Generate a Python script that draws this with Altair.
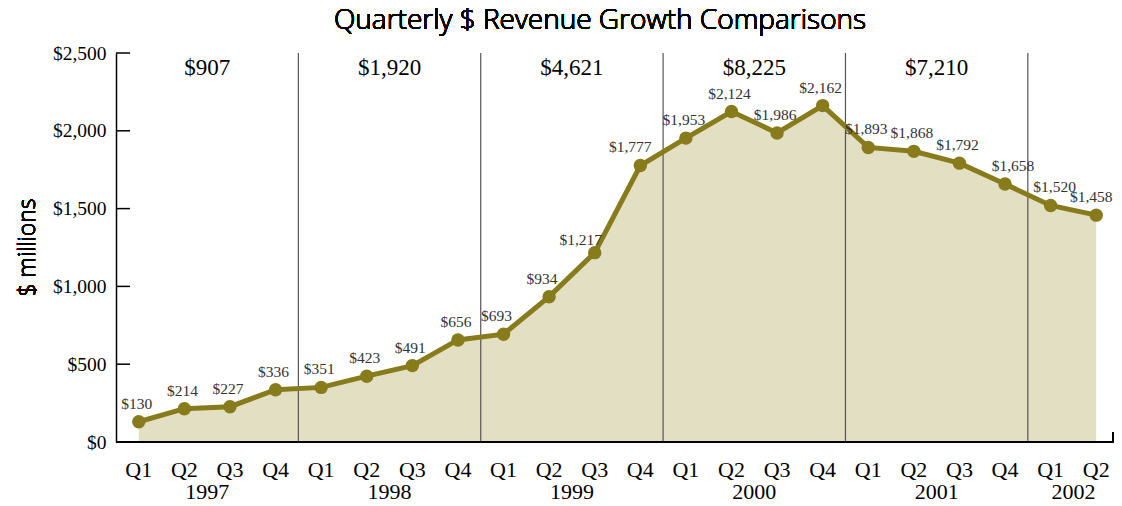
import altair as alt
import pandas as pd

quarters = ["Q1", "Q2", "Q3", "Q4"] * 5 + ["Q1", "Q2"]
years = ["1997"] * 4 + ["1998"] * 4 + ["1999"] * 4 + ["2000"] * 4 + ["2001"] * 4 + ["2002"] * 2
revenue = [130, 214, 227, 336, 351, 423, 491, 656, 693, 934, 1217, 1777,
           1953, 2124, 1986, 2162, 1893, 1868, 1792, 1658, 1520, 1458]
total_years = ["1997", "1998", "1999", "2000", "2001"]
annual_totals = ["$907", "$1,920", "$4,621", "$8,225", "$7,210"]
y_ticks = [0, 500, 1000, 1500, 2000, 2500]

W, H = 998, 389
SERIF = "Liberation Serif"
SANS = "Open Sans"
LINE = "#877b1b"
FILL = "#e3dfc2"

df = pd.DataFrame({"i": list(range(len(revenue))), "q": quarters, "year": years, "revenue": revenue})

# year centers / boundaries from the quarter indices
yc = df.groupby("year", sort=True)["i"].agg(["min", "max"]).reset_index()
yc["center"] = (yc["min"] + yc["max"]) / 2
years_df = yc[["year", "center"]]
seps_df = pd.DataFrame({"sep": [m - 0.5 for m in yc["min"].tolist()[1:]]})
tot_df = pd.DataFrame({"year": total_years, "total": annual_totals}).merge(
    yc.assign(mid=yc["min"] + 1.5)[["year", "mid"]], on="year")
ticks_df = pd.DataFrame({"v": y_ticks})

xs = alt.Scale(domain=[-0.5, len(revenue) - 0.61], nice=False, zero=False)
ys = alt.Scale(domain=[0, 2500], nice=False)

base = alt.Chart(df)

area = base.mark_area(color=FILL, opacity=1).encode(
    x=alt.X("i:Q", scale=xs, axis=None),
    y=alt.Y("revenue:Q", scale=ys, axis=alt.Axis(
        values=y_ticks, format="$,.0f", title=None, grid=False, tickSize=0,
        labelFont=SERIF, labelFontSize=19.5, labelColor="#000", labelPadding=10,
        domainColor="#000", domainWidth=1.5)),
)

seps = alt.Chart(seps_df).mark_rule(color="#555", strokeWidth=1.2).encode(
    x=alt.X("sep:Q", scale=xs), y=alt.value(0), y2=alt.value(H))

yticks = alt.Chart(ticks_df).mark_rule(color="#000", strokeWidth=1.5).encode(
    y=alt.Y("v:Q", scale=ys), x=alt.value(0), x2=alt.value(14))

bottom = base.mark_rule(color="#000", strokeWidth=1.5).encode(
    x=alt.value(0), x2=alt.value(W), y=alt.value(H))
rtick = base.mark_rule(color="#000", strokeWidth=1.5).encode(
    x=alt.value(W - 1), y=alt.value(H - 10), y2=alt.value(H))

line = base.mark_line(color=LINE, strokeWidth=5).encode(
    x=alt.X("i:Q", scale=xs), y=alt.Y("revenue:Q", scale=ys))
pts = base.mark_circle(color=LINE, size=180, opacity=1).encode(
    x=alt.X("i:Q", scale=xs), y=alt.Y("revenue:Q", scale=ys))


def labels(idx, dx, dy):
    return base.transform_filter(alt.FieldOneOfPredicate(field="i", oneOf=idx)).mark_text(
        font=SERIF, fontSize=15.5, color="#333", baseline="middle", dx=dx, dy=dy).encode(
        x=alt.X("i:Q", scale=xs), y=alt.Y("revenue:Q", scale=ys),
        text=alt.Text("revenue:Q", format="$,.0f"))


special = [8, 9, 10, 11, 19, 20, 21]
rest = [k for k in range(len(revenue)) if k not in special]
lab_layers = [
    labels(rest, -2, -18),
    labels([8, 9], -7, -18),
    labels([10], -14, -13),
    labels([11], -10, -18),
    labels([19], 8, -18),
    labels([20], 4, -18),
    labels([21], -5, -18),
]

qlab = base.mark_text(font=SERIF, fontSize=22, color="#000", baseline="middle").encode(
    x=alt.X("i:Q", scale=xs), y=alt.value(H + 28), text="q:N")
ylab = alt.Chart(years_df).mark_text(font=SERIF, fontSize=22, color="#000", baseline="middle").encode(
    x=alt.X("center:Q", scale=xs), y=alt.value(H + 50), text="year:N")
tots = alt.Chart(tot_df).mark_text(font=SERIF, fontSize=23, color="#000", baseline="middle").encode(
    x=alt.X("mid:Q", scale=xs), y=alt.value(15), text="total:N")

title = base.mark_text(font=SANS, fontSize=28, fontWeight=300, color="#000",
                       baseline="middle", align="center").encode(
    x=alt.value(484), y=alt.value(-32), text=alt.value("Quarterly $ Revenue Growth Comparisons"))
ytitle = base.mark_text(font=SANS, fontSize=23, fontWeight=300, color="#000",
                        baseline="middle", align="center", angle=270).encode(
    x=alt.value(-88), y=alt.value(H / 2), text=alt.value("$ millions"))

chart = alt.layer(area, seps, yticks, bottom, rtick, line, pts, *lab_layers,
                  qlab, ylab, tots, title, ytitle).properties(
    width=W, height=H,
    padding={"left": 108, "top": 45, "right": 0, "bottom": 59},
    autosize=alt.AutoSizeParams(type="none"),
).configure_view(stroke=None)

chart.save("out.html", embed_options={"renderer": "svg", "actions": False})
